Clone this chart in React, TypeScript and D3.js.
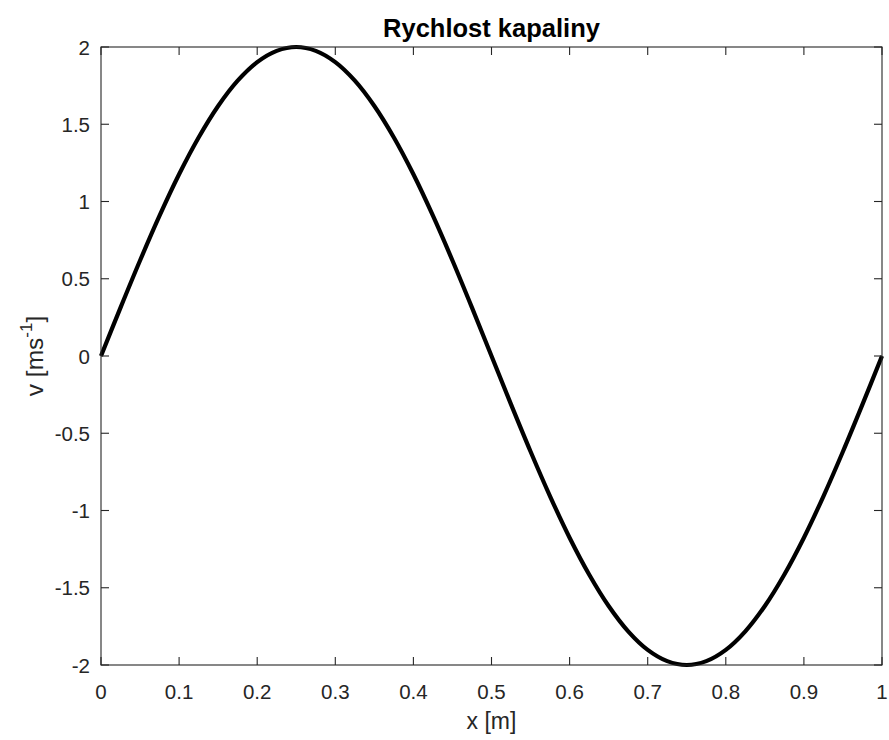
import React from "react";
import * as d3 from "d3";

// Sampled fluid velocity along the pipe
const xs = [
  0, 0.025, 0.05, 0.075, 0.1, 0.125, 0.15, 0.175, 0.2, 0.225, 0.25,
  0.275, 0.3, 0.325, 0.35, 0.375, 0.4, 0.425, 0.45, 0.475, 0.5,
  0.525, 0.55, 0.575, 0.6, 0.625, 0.65, 0.675, 0.7, 0.725, 0.75,
  0.775, 0.8, 0.825, 0.85, 0.875, 0.9, 0.925, 0.95, 0.975, 1,
];
const vs = [
  0, 0.313, 0.618, 0.908, 1.176, 1.414, 1.618, 1.782, 1.902, 1.975, 2.0,
  1.975, 1.902, 1.782, 1.618, 1.414, 1.176, 0.908, 0.618, 0.313, 0,
  -0.313, -0.618, -0.908, -1.176, -1.414, -1.618, -1.782, -1.902, -1.975, -2.0,
  -1.975, -1.902, -1.782, -1.618, -1.414, -1.176, -0.908, -0.618, -0.313, 0,
];
const xTicks = [0, 0.1, 0.2, 0.3, 0.4, 0.5, 0.6, 0.7, 0.8, 0.9, 1];
const yTicks = [-2, -1.5, -1, -0.5, 0, 0.5, 1, 1.5, 2];

const W = 889;
const H = 740;
const L = 101, R = 882, T = 47, B = 665;
const axisColor = "#262626";
const font = "'Liberation Sans', Arial, Helvetica, sans-serif";

export default function App() {
  const x = d3.scaleLinear().domain([0, 1]).range([L, R]);
  const y = d3.scaleLinear().domain([-2, 2]).range([B, T]);
  const pts = xs.map((d, i) => [d, vs[i]] as [number, number]);
  const line = d3
    .line<[number, number]>()
    .x((d) => x(d[0]))
    .y((d) => y(d[1]))
    .curve(d3.curveCatmullRom.alpha(0.5));
  const fmt = (v: number) => String(v);
  const tl = 8;

  return (
    <svg
      width={W}
      height={H}
      style={{ position: "absolute", left: 0, top: 0, background: "#fff" }}
      fontFamily={font}
    >
      <rect x={0} y={0} width={W} height={H} fill="#fff" />
      <path d={line(pts) || ""} fill="none" stroke="#000" strokeWidth={4.2} strokeLinejoin="round" />
      {/* box */}
      <rect x={L} y={T} width={R - L} height={B - T} fill="none" stroke={axisColor} strokeWidth={1.1} />
      {xTicks.map((t) => (
        <g key={"x" + t}>
          <line x1={x(t)} x2={x(t)} y1={B} y2={B - tl} stroke={axisColor} strokeWidth={1.1} />
          <line x1={x(t)} x2={x(t)} y1={T} y2={T + tl} stroke={axisColor} strokeWidth={1.1} />
          <text x={x(t)} y={B + 34} textAnchor="middle" fontSize={20.5} fill={axisColor}>
            {fmt(t)}
          </text>
        </g>
      ))}
      {yTicks.map((t) => (
        <g key={"y" + t}>
          <line x1={L} x2={L + tl} y1={y(t)} y2={y(t)} stroke={axisColor} strokeWidth={1.1} />
          <line x1={R} x2={R - tl} y1={y(t)} y2={y(t)} stroke={axisColor} strokeWidth={1.1} />
          <text x={L - 11} y={y(t) + 7.5} textAnchor="end" fontSize={20.5} fill={axisColor}>
            {fmt(t)}
          </text>
        </g>
      ))}
      <text x={(L + R) / 2} y={37} textAnchor="middle" fontSize={25.5} fontWeight="bold" fill="#000">
        Rychlost kapaliny
      </text>
      <text x={(L + R) / 2} y={729} textAnchor="middle" fontSize={23} fill={axisColor}>
        x [m]
      </text>
      <text
        transform={`translate(43, ${(T + B) / 2}) rotate(-90)`}
        textAnchor="middle"
        fontSize={24.5}
        fill={axisColor}
      >
        v [ms<tspan dy={-11} fontSize={17}>-1</tspan>
        <tspan dy={11}>]</tspan>
      </text>
    </svg>
  );
}
